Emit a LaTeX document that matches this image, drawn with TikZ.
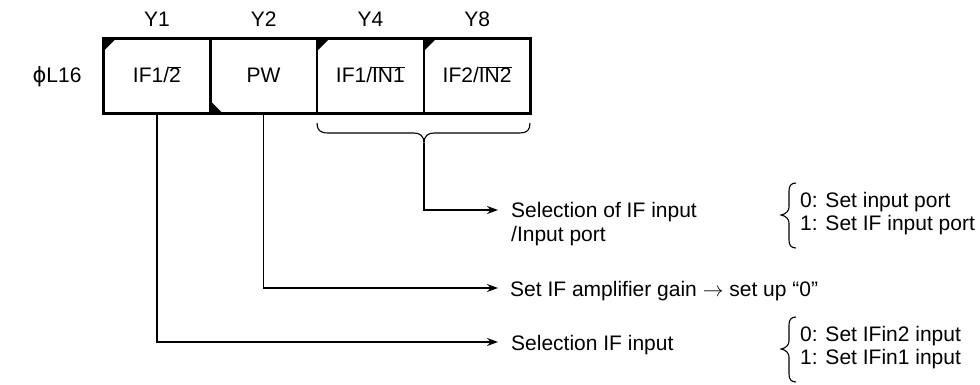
\documentclass[tikz,border=0pt]{standalone}
\usepackage{fontspec}
\setmainfont{Liberation Sans}
\newfontfamily\dejavu{DejaVu Sans}
\usetikzlibrary{arrows.meta}
\newcommand\ovl[1]{\ensuremath{\overline{\mbox{#1}}}}
\begin{document}
\begin{tikzpicture}[x=1pt,y=-1pt,
  txt/.style={font=\fontsize{21}{24}\selectfont, inner sep=0pt},
  cell/.style={minimum width=106.75pt, minimum height=75pt, inner sep=0pt},
  conn/.style={line width=1.2pt},
  arr/.style={conn, -{Stealth[length=11pt,width=8pt]}},
  curly/.style={line width=1.1pt}]
\useasboundingbox (0,0) rectangle (980,385);
% register cells
\node[cell] (c1) at (156.9,76) {};
\node[cell] (c2) at (263.6,76) {};
\node[cell] (c3) at (370.4,76) {};
\node[cell] (c4) at (477.1,76) {};
% corner marks
\fill (c1.north west) -- ++(13,0) -- ++(-13,13) -- cycle;
\fill (c3.north west) -- ++(13,0) -- ++(-13,13) -- cycle;
\fill (c4.north west) -- ++(13,0) -- ++(-13,13) -- cycle;
\fill (c2.south west) -- ++(13,0) -- ++(-13,-13) -- cycle;
% frame and dividers
\draw[line width=3.2pt] (c1.north west) rectangle (c4.south east);
\draw[line width=2.2pt] (c1.north east) -- (c1.south east);
\draw[line width=2.2pt] (c2.north east) -- (c2.south east);
\draw[line width=2.2pt] (c3.north east) -- (c3.south east);
% cell texts
\node[txt, anchor=base] (t1) at (156.9,83) {IF1/\ovl{2}};
\node[txt, anchor=base] (t2) at (263.6,83) {PW};
\node[txt, anchor=base] (t3) at (370.4,83) {IF1/\ovl{IN1}};
\node[txt, anchor=base] (t4) at (477.1,83) {IF2/\ovl{IN2}};
% bit labels
\node[txt, anchor=base] (y1) at (156.9,27) {Y1};
\node[txt, anchor=base] (y2) at (263.6,27) {Y2};
\node[txt, anchor=base] (y4) at (370.4,27) {Y4};
\node[txt, anchor=base] (y8) at (477.1,27) {Y8};
\node[txt, anchor=base] (reg) at (57,83) {{\dejavu ϕ}L16};
% brace under Y4,Y8
\coordinate (btip) at (424,143);
\draw[curly] (317,123) .. controls (317,130) and (320,133) .. (328,133) -- (414,133)
  .. controls (420,133) and (424,136) .. (btip)
  .. controls (424,136) and (428,133) .. (434,133) -- (520,133)
  .. controls (527,133) and (530,130) .. (530,123);
% descriptions
\node[txt, anchor=base west] (s1a) at (511,217) {Selection of IF input};
\node[txt, anchor=base west] (s1b) at (511,241) {/Input port};
\node[txt, anchor=base west] (r1a) at (800,207) {0: Set input port};
\node[txt, anchor=base west] (r1b) at (800,230) {1: Set IF input port};
\node[txt, anchor=base west] (s2) at (510,296) {Set IF amplifier gain $\rightarrow$ set up “0”};
\node[txt, anchor=base west] (s3) at (511,350) {Selection IF input};
\node[txt, anchor=base west] (r2a) at (800,341) {0: Set IFin2 input};
\node[txt, anchor=base west] (r2b) at (800,364) {1: Set IFin1 input};
% arrow end points
\coordinate (a1) at (498,210);
\coordinate (a2) at (498,288);
\coordinate (a3) at (498,342);
% connectors
\draw[arr] (btip) |- (a1);
\draw[arr] (c2.south) |- (a2);
\draw[arr] (c1.south) |- (a3);
% option braces
\draw[curly] (796,183) .. controls (791,183) and (789,186) .. (789,191) -- (789,207)
  .. controls (789,211) and (786,214) .. (781,215)
  .. controls (786,216) and (789,219) .. (789,223) -- (789,240)
  .. controls (789,245) and (791,248) .. (796,248);
\begin{scope}[yshift=-134pt]
\draw[curly] (796,183) .. controls (791,183) and (789,186) .. (789,191) -- (789,207)
  .. controls (789,211) and (786,214) .. (781,215)
  .. controls (786,216) and (789,219) .. (789,223) -- (789,240)
  .. controls (789,245) and (791,248) .. (796,248);
\end{scope}
\end{tikzpicture}
\end{document}
